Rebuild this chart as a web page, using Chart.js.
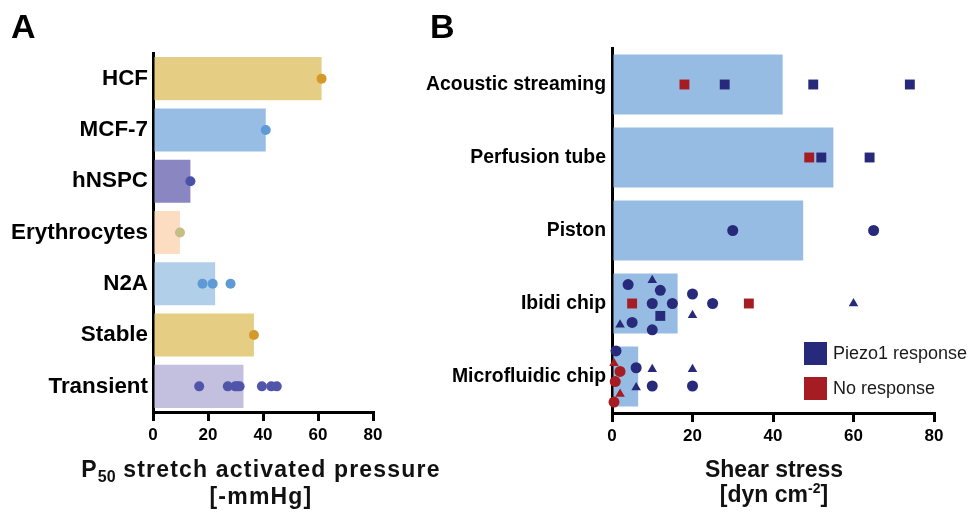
<!DOCTYPE html>
<html><head><meta charset="utf-8">
<script src="https://cdn.jsdelivr.net/npm/chart.js@4.4.0/dist/chart.umd.min.js"></script>
<style>
html,body{margin:0;padding:0;background:#fff;}
body{width:968px;height:517px;position:relative;overflow:hidden;font-family:'Liberation Sans',Arial,sans-serif;}
canvas{position:absolute;top:0;}
#cA{left:0;} #cB{left:400px;}
.panel{position:absolute;font-weight:bold;font-size:34px;line-height:34px;color:#000;}
.xt{position:absolute;width:400px;text-align:center;font-weight:bold;font-size:23px;line-height:25px;color:#111;white-space:nowrap;}
</style></head><body>
<canvas id="cA" width="400" height="517"></canvas>
<canvas id="cB" width="568" height="517"></canvas>
<div class="panel" style="left:11px;top:9px">A</div>
<div class="panel" style="left:430px;top:9px">B</div>
<div class="xt" style="left:61px;top:457px;letter-spacing:1.2px">P<span style="font-size:16px;position:relative;top:5px;letter-spacing:0">50</span> stretch activated pressure<br>[-mmHg]</div>
<div class="xt" style="left:574px;top:457px">Shear stress<br>[dyn cm<span style="font-size:14px;position:relative;top:-9px">-2</span>]</div>
<script>
// ---------- Panel A data ----------
const cellTypes = ['HCF', 'MCF-7', 'hNSPC', 'Erythrocytes', 'N2A', 'Stable', 'Transient'];
const p50Means = [61.3, 41, 13.6, 9.8, 22.6, 36.7, 32.9];
const hcfP50 = [61.3];
const mcf7P50 = [41];
const hnspcP50 = [13.6];
const erythrocyteP50 = [9.8];
const n2aP50 = [18, 21.7, 28.2];
const stableP50 = [36.7];
const transientP50 = [16.8, 27.2, 29.9, 30.6, 31.5, 39.6, 43, 45];
const pressureTicks = [0, 20, 40, 60, 80];

// ---------- Panel B data ----------
const methods = ['Acoustic streaming', 'Perfusion tube', 'Piston', 'Ibidi chip', 'Microfluidic chip'];
const shearMeans = [42.4, 55, 47.5, 16.3, 6.5];
const shearTicks = [0, 20, 40, 60, 80];
const legendLabels = ['Piezo1 response', 'No response'];

// Piezo1 response, circles
const respCircleX = [30, 65, 4, 12, 20, 10, 15, 25, 5, 10, 1, 6, 10, 20];
const respCircleRow = ['Piston', 'Piston', 'Ibidi chip', 'Ibidi chip', 'Ibidi chip', 'Ibidi chip', 'Ibidi chip', 'Ibidi chip', 'Ibidi chip', 'Ibidi chip', 'Microfluidic chip', 'Microfluidic chip', 'Microfluidic chip', 'Microfluidic chip'];
const respCircleJitter = [0, 0, -0.26, -0.18, -0.13, 0, 0, 0, 0.26, 0.36, -0.35, -0.12, 0.13, 0.13];
// Piezo1 response, triangles
const respTriX = [10, 60, 20, 2, 10, 20, 6];
const respTriRow = ['Ibidi chip', 'Ibidi chip', 'Ibidi chip', 'Ibidi chip', 'Microfluidic chip', 'Microfluidic chip', 'Microfluidic chip'];
const respTriJitter = [-0.32, 0, 0.16, 0.29, -0.1, -0.1, 0.15];
// Piezo1 response, squares
const respSqX = [28, 50, 74, 52, 64, 12];
const respSqRow = ['Acoustic streaming', 'Acoustic streaming', 'Acoustic streaming', 'Perfusion tube', 'Perfusion tube', 'Ibidi chip'];
const respSqJitter = [0, 0, 0, 0, 0, 0.17];
// No response, squares
const noSqX = [18, 49, 5, 34];
const noSqRow = ['Acoustic streaming', 'Perfusion tube', 'Ibidi chip', 'Ibidi chip'];
const noSqJitter = [0, 0, 0, 0];
// No response, circles
const noCircleX = [2, 0.8, 0.5];
const noCircleRow = ['Microfluidic chip', 'Microfluidic chip', 'Microfluidic chip'];
const noCircleJitter = [-0.07, 0.07, 0.35];
// No response, triangles
const noTriX = [0.5, 2];
const noTriRow = ['Microfluidic chip', 'Microfluidic chip'];
const noTriJitter = [-0.18, 0.24];

// ---------- styles ----------
const FONT = "'Liberation Sans', Arial, sans-serif";
const barColorsA = ['#E6CD84', '#98BDE4', '#8986C2', '#FDDDC1', '#B2CFEA', '#E6CD84', '#C3BFDE'];
const dotColorsA = ['#D39A2A', '#5E9AD6', '#4A51A8', '#C5BE85', '#5E9AD6', '#D39A2A', '#5055AA'];
const BLUE = '#272A7A', RED = '#A51C22', BAR_B = '#97BCE3';

Chart.defaults.animation = false;
Chart.defaults.events = [];
Chart.defaults.font.family = FONT;

// ---------- Panel A ----------
const perCell = [hcfP50, mcf7P50, hnspcP50, erythrocyteP50, n2aP50, stableP50, transientP50];
const ptsA = [], ptsAColors = [];
perCell.forEach((vals, i) => vals.forEach(v => { ptsA.push({ x: v, y: i }); ptsAColors.push(dotColorsA[i]); }));

function xAxis(h, tickVals) {
  return {
    type: 'linear', min: tickVals[0], max: tickVals[tickVals.length - 1], offset: false,
    ticks: { stepSize: tickVals[1] - tickVals[0], color: '#000', padding: 4, maxRotation: 0,
      font: { family: FONT, size: 17, weight: 'bold' } },
    grid: { display: true, offset: false, drawOnChartArea: false, drawTicks: true, tickLength: 9, lineWidth: 3, color: '#000' },
    border: { display: true, width: 3, color: '#000' },
    afterFit(s) { s.height = h; }
  };
}
function yAxis(labels, w, size, pad) {
  return {
    type: 'category', labels: labels, offset: true,
    grid: { display: false, drawTicks: false, tickLength: 0 },
    border: { display: true, width: 3, color: '#000' },
    ticks: { color: '#000', padding: pad, autoSkip: false, font: { family: FONT, size: size, weight: 'bold' } },
    afterFit(s) { s.width = w; }
  };
}
function jitterAxis(n) {
  return { type: 'linear', display: false, offset: false, min: -0.5, max: n - 0.5, reverse: true };
}

new Chart(document.getElementById('cA'), {
  type: 'bar',
  data: {
    labels: cellTypes,
    datasets: [
      { type: 'bar', indexAxis: 'y', data: p50Means, backgroundColor: barColorsA, borderWidth: 0,
        barPercentage: 0.84, categoryPercentage: 1, xAxisID: 'x', yAxisID: 'y', order: 2 },
      { type: 'scatter', data: ptsA, pointStyle: 'circle', pointRadius: 5,
        backgroundColor: ptsAColors, pointBackgroundColor: ptsAColors, borderWidth: 0, pointBorderWidth: 0,
        xAxisID: 'x', yAxisID: 'yp', clip: false, order: 0 }
    ]
  },
  options: {
    responsive: false, maintainAspectRatio: false,
    layout: { padding: { left: 0, right: 27, top: 53, bottom: 0 } },
    plugins: { legend: { display: false }, tooltip: { enabled: false } },
    scales: {
      x: xAxis(105, pressureTicks),
      y: yAxis(cellTypes, 153, 22.4, 5),
      yp: jitterAxis(cellTypes.length)
    }
  }
});

// ---------- Panel B ----------
function buildPts(xs, rows, jit) {
  return xs.map((x, i) => ({ x: x, y: methods.indexOf(rows[i]) + jit[i] }));
}
function ptSet(data, style, color, r) {
  return { type: 'scatter', data: data, pointStyle: style, pointRadius: r,
    backgroundColor: color, pointBackgroundColor: color, borderWidth: 0, pointBorderWidth: 0,
    xAxisID: 'x', yAxisID: 'yp', clip: false, order: 0 };
}

const legendPlugin = {
  id: 'boxLegend',
  afterDraw(chart) {
    const ctx = chart.ctx, ca = chart.chartArea;
    const colors = [BLUE, RED];
    ctx.save();
    ctx.font = "18px " + FONT;
    ctx.textBaseline = 'middle';
    ctx.textAlign = 'left';
    legendLabels.forEach((lab, i) => {
      const x0 = ca.right - 130, y0 = ca.bottom - 71 + i * 35;
      ctx.fillStyle = colors[i];
      ctx.fillRect(x0, y0, 23, 23);
      ctx.fillStyle = '#1a1a1a';
      ctx.fillText(lab, x0 + 29, y0 + 12);
    });
    ctx.restore();
  }
};

new Chart(document.getElementById('cB'), {
  type: 'bar',
  data: {
    labels: methods,
    datasets: [
      { type: 'bar', indexAxis: 'y', data: shearMeans, backgroundColor: BAR_B, borderWidth: 0,
        barPercentage: 0.82, categoryPercentage: 1, xAxisID: 'x', yAxisID: 'y', order: 2 },
      ptSet(buildPts(respCircleX, respCircleRow, respCircleJitter), 'circle', BLUE, 5.5),
      ptSet(buildPts(respTriX, respTriRow, respTriJitter), 'triangle', BLUE, 5.5),
      ptSet(buildPts(respSqX, respSqRow, respSqJitter), 'rect', BLUE, 7),
      ptSet(buildPts(noSqX, noSqRow, noSqJitter), 'rect', RED, 7),
      ptSet(buildPts(noCircleX, noCircleRow, noCircleJitter), 'circle', RED, 5.5),
      ptSet(buildPts(noTriX, noTriRow, noTriJitter), 'triangle', RED, 5.5)
    ]
  },
  options: {
    responsive: false, maintainAspectRatio: false,
    layout: { padding: { left: 0, right: 34, top: 48, bottom: 0 } },
    plugins: { legend: { display: false }, tooltip: { enabled: false } },
    scales: {
      x: xAxis(104, shearTicks),
      y: yAxis(methods, 212, 19.4, 6),
      yp: jitterAxis(methods.length)
    }
  },
  plugins: [legendPlugin]
});
</script>
</body></html>
